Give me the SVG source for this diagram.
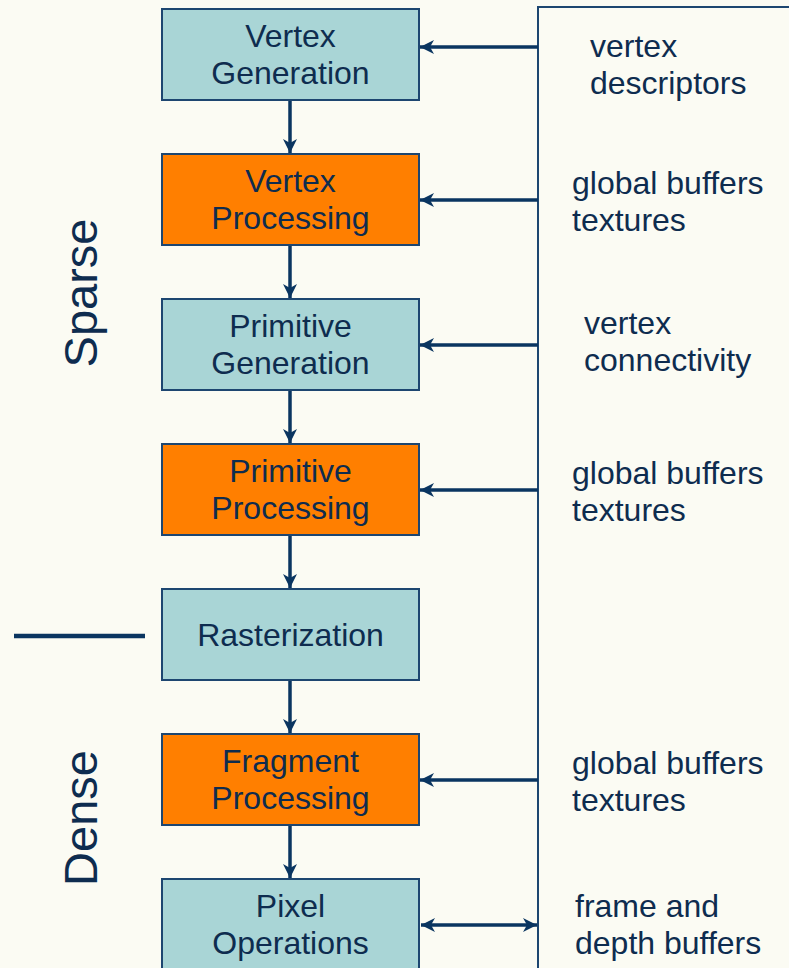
<svg xmlns="http://www.w3.org/2000/svg" width="789" height="968" viewBox="0 0 789 968">
<style>
.box{stroke:#1d4670;stroke-width:2}
.teal{fill:#a9d5d6}
.orange{fill:#ff7f00}
.t{font-family:"Liberation Sans",Arial,sans-serif;font-size:32px;fill:#0e2c4f}
.c{text-anchor:middle}
.side{font-family:"Liberation Sans",Arial,sans-serif;font-size:47px;fill:#0e2c4f;text-anchor:middle}
.arr{stroke:#0a3560;stroke-width:3.5;fill:none}
.frame{stroke:#1d4670;stroke-width:2;fill:none}
</style>
<defs>
<marker id="ah" markerUnits="userSpaceOnUse" viewBox="-1 -8 16 16" markerWidth="16" markerHeight="16" refX="14" refY="0" orient="auto-start-reverse">
<path d="M0,-7 L14,0 L0,7 L4,0 Z" fill="#0a3560"/>
</marker>
</defs>
<rect width="789" height="968" fill="#fbfbf3"/>
<g id="frame">
<path class="frame" d="M538,968 L538,7 L789,7"/>
</g>
<g id="connectors">
<line class="arr" x1="290" y1="101" x2="290" y2="153" marker-end="url(#ah)"/>
<line class="arr" x1="290" y1="246" x2="290" y2="298" marker-end="url(#ah)"/>
<line class="arr" x1="290" y1="391" x2="290" y2="443" marker-end="url(#ah)"/>
<line class="arr" x1="290" y1="536" x2="290" y2="588" marker-end="url(#ah)"/>
<line class="arr" x1="290" y1="681" x2="290" y2="733" marker-end="url(#ah)"/>
<line class="arr" x1="290" y1="826" x2="290" y2="878" marker-end="url(#ah)"/>
<line class="arr" x1="538" y1="47" x2="420" y2="47" marker-end="url(#ah)"/>
<line class="arr" x1="538" y1="200" x2="420" y2="200" marker-end="url(#ah)"/>
<line class="arr" x1="538" y1="345" x2="420" y2="345" marker-end="url(#ah)"/>
<line class="arr" x1="538" y1="490" x2="420" y2="490" marker-end="url(#ah)"/>
<line class="arr" x1="538" y1="780" x2="420" y2="780" marker-end="url(#ah)"/>
<line class="arr" x1="421" y1="925" x2="537" y2="925" marker-start="url(#ah)" marker-end="url(#ah)"/>
<line x1="14" y1="636" x2="145" y2="636" stroke="#0a3560" stroke-width="4.5"/>
</g>
<g id="vertex-generation">
<rect class="box teal" x="162" y="9" width="257" height="91"/>
<text class="t c" x="290.5" y="47">Vertex</text>
<text class="t c" x="290.5" y="84">Generation</text>
</g>
<g id="vertex-processing">
<rect class="box orange" x="162" y="154" width="257" height="91"/>
<text class="t c" x="290.5" y="192">Vertex</text>
<text class="t c" x="290.5" y="229">Processing</text>
</g>
<g id="primitive-generation">
<rect class="box teal" x="162" y="299" width="257" height="91"/>
<text class="t c" x="290.5" y="337">Primitive</text>
<text class="t c" x="290.5" y="374">Generation</text>
</g>
<g id="primitive-processing">
<rect class="box orange" x="162" y="444" width="257" height="91"/>
<text class="t c" x="290.5" y="482">Primitive</text>
<text class="t c" x="290.5" y="519">Processing</text>
</g>
<g id="rasterization">
<rect class="box teal" x="162" y="589" width="257" height="91"/>
<text class="t c" x="290.5" y="646">Rasterization</text>
</g>
<g id="fragment-processing">
<rect class="box orange" x="162" y="734" width="257" height="91"/>
<text class="t c" x="290.5" y="772">Fragment</text>
<text class="t c" x="290.5" y="809">Processing</text>
</g>
<g id="pixel-operations">
<rect class="box teal" x="162" y="879" width="257" height="100"/>
<text class="t c" x="290.5" y="917">Pixel</text>
<text class="t c" x="290.5" y="954">Operations</text>
</g>
<g id="labels">
<text class="t" x="590" y="57">vertex</text>
<text class="t" x="590" y="94">descriptors</text>
<text class="t" x="572" y="194">global buffers</text>
<text class="t" x="572" y="231">textures</text>
<text class="t" x="584" y="334">vertex</text>
<text class="t" x="584" y="371">connectivity</text>
<text class="t" x="572" y="484">global buffers</text>
<text class="t" x="572" y="521">textures</text>
<text class="t" x="572" y="774">global buffers</text>
<text class="t" x="572" y="811">textures</text>
<text class="t" x="575" y="917">frame and</text>
<text class="t" x="575" y="954">depth buffers</text>
<text class="side" transform="translate(97,293) rotate(-90)">Sparse</text>
<text class="side" transform="translate(97,818) rotate(-90)">Dense</text>
</g>
</svg>
